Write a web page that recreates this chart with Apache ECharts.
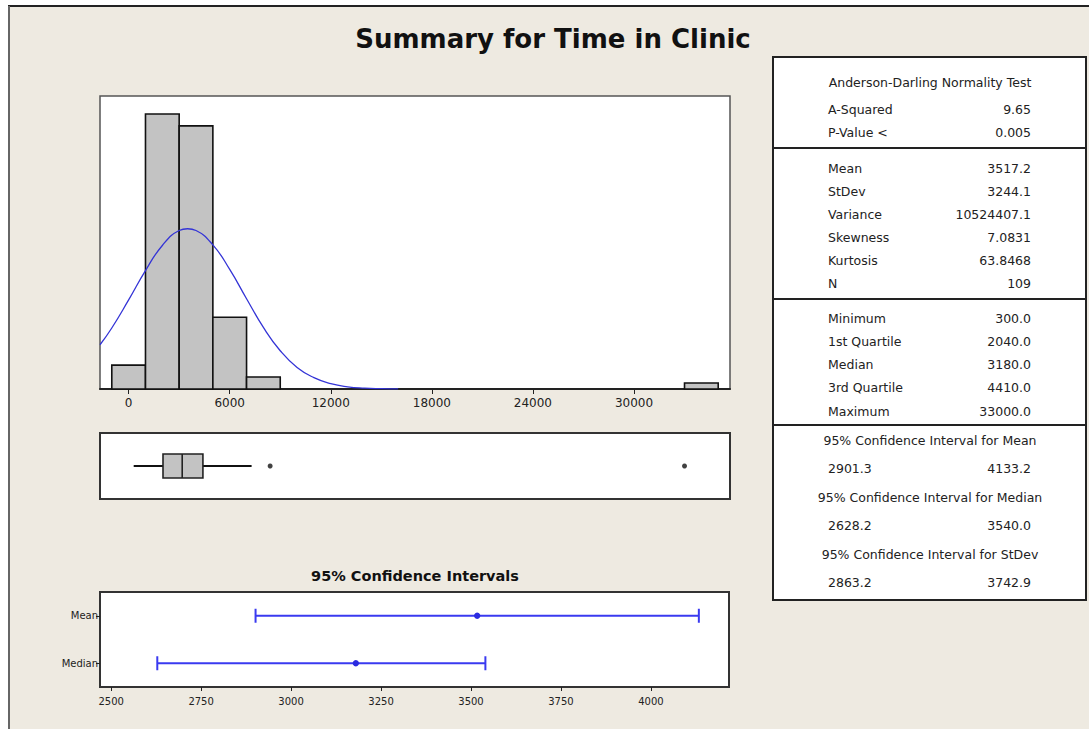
<!DOCTYPE html>
<html>
<head>
<meta charset="utf-8">
<title>Summary for Time in Clinic</title>
<script src="https://cdn.jsdelivr.net/npm/echarts@6/dist/echarts.min.js"></script>
<style>
  html, body { margin: 0; padding: 0; background: #fff; }
  #chart { width: 1089px; height: 729px; }
</style>
</head>
<body>
<div id="chart"></div>
<script>
// histogram bins (Time in Clinic) and counts
var binStart = [-1000, 1000, 3000, 5000, 7000, 33000]
var binEnd = [1000, 3000, 5000, 7000, 9000, 35000]
var binCount = [4, 46, 44, 12, 2, 1]

// fitted normal curve (count scale)
var curveX = [-1700, -1000, 0, 1000, 2000, 3000, 3500, 4000, 5000, 6000, 7000, 8000, 9000, 10000, 11000, 12000, 13000, 14000, 15000, 16000]
var curveY = [7.4, 10.2, 14.9, 19.8, 24.0, 26.5, 26.8, 26.5, 24.1, 20.0, 15.1, 10.3, 6.4, 3.6, 1.9, 0.9, 0.37, 0.14, 0.05, 0.01]
var histTicks = [0, 6000, 12000, 18000, 24000, 30000]

// box plot: whisker low, Q1, median, Q3, whisker high
var boxStats = [300, 2040, 3180, 4410, 7300]
var outliers = [8400, 33000]

// 95% confidence intervals
var ciNames = ['Median', 'Mean']
var ciLow = [2628.2, 2901.3]
var ciHigh = [3540.0, 4133.2]
var ciCenter = [3180.0, 3517.2]
var ciTicks = [2500, 2750, 3000, 3250, 3500, 3750, 4000]

// statistics panel
var adRows = [['A-Squared', '9.65'], ['P-Value <', '0.005']]
var momentRows = [['Mean', '3517.2'], ['StDev', '3244.1'], ['Variance', '10524407.1'], ['Skewness', '7.0831'], ['Kurtosis', '63.8468'], ['N', '109']]
var quantRows = [['Minimum', '300.0'], ['1st Quartile', '2040.0'], ['Median', '3180.0'], ['3rd Quartile', '4410.0'], ['Maximum', '33000.0']]
var ciTitles = ['95% Confidence Interval for Mean', '95% Confidence Interval for Median', '95% Confidence Interval for StDev']
var ciPairs = [['2901.3', '4133.2'], ['2628.2', '3540.0'], ['2863.2', '3742.9']]

var FONT = 'DejaVu Sans'
var BG = '#EEEAE1'

var histData = binStart.map(function (s, i) { return [s, binEnd[i], binCount[i]] })
var curveData = curveX.map(function (x, i) { return [x, curveY[i]] })
var ciData = ciNames.map(function (n, i) { return [ciLow[i], ciHigh[i], ciCenter[i], i] })

function plain(v) { return String(v) }

function tableGraphics() {
  var els = []
  var L = 828, R = 1031, MID = 930
  els.push({ type: 'rect', shape: { x: 773, y: 57, width: 313, height: 543 },
    style: { fill: '#fff', stroke: '#222', lineWidth: 2 } })
  ;[148, 299, 425].forEach(function (y) {
    els.push({ type: 'line', shape: { x1: 773, y1: y, x2: 1086, y2: y }, style: { stroke: '#222', lineWidth: 2 } })
  })
  function txt(x, y, s, align) {
    els.push({ type: 'text', x: x, y: y,
      style: { text: s, fill: '#222', font: '12.5px "' + FONT + '"', textAlign: align, textVerticalAlign: 'middle' } })
  }
  txt(MID, 82, 'Anderson-Darling Normality Test', 'center')
  adRows.forEach(function (r, i) { txt(L, 109 + i * 23.5, r[0], 'left'); txt(R, 109 + i * 23.5, r[1], 'right') })
  momentRows.forEach(function (r, i) { txt(L, 168 + i * 23, r[0], 'left'); txt(R, 168 + i * 23, r[1], 'right') })
  quantRows.forEach(function (r, i) { txt(L, 318 + i * 23.3, r[0], 'left'); txt(R, 318 + i * 23.3, r[1], 'right') })
  ciTitles.forEach(function (t, i) {
    var y = 440 + i * 57
    txt(MID, y, t, 'center')
    txt(L, y + 28, ciPairs[i][0], 'left')
    txt(R, y + 28, ciPairs[i][1], 'right')
  })
  return els
}

var chart = echarts.init(document.getElementById('chart'), null, { renderer: 'svg' })

chart.setOption({
  animation: false,
  backgroundColor: '#fff',
  graphic: [
    { type: 'rect', z: -10, shape: { x: 9, y: 6, width: 1080, height: 723 }, style: { fill: BG } },
    { type: 'line', shape: { x1: 8, y1: 6, x2: 1089, y2: 6 }, style: { stroke: '#222', lineWidth: 2 } },
    { type: 'line', shape: { x1: 9, y1: 6, x2: 9, y2: 729 }, style: { stroke: '#666', lineWidth: 2 } },
    { type: 'text', x: 553, y: 39,
      style: { text: 'Summary for Time in Clinic', fill: '#111', font: 'bold 26px "' + FONT + '"', textAlign: 'center', textVerticalAlign: 'middle' } },
    { type: 'text', x: 415, y: 576,
      style: { text: '95% Confidence Intervals', fill: '#111', font: 'bold 14.5px "' + FONT + '"', textAlign: 'center', textVerticalAlign: 'middle' } }
  ].concat(tableGraphics()),
  grid: [
    { left: 100, top: 96, width: 630, height: 293, show: true, backgroundColor: '#fff', borderColor: '#555', borderWidth: 1.5 },
    { left: 100, top: 433, width: 630, height: 66, show: true, backgroundColor: '#fff', borderColor: '#333', borderWidth: 2 },
    { left: 100, top: 592, width: 629, height: 95, show: true, backgroundColor: '#fff', borderColor: '#333', borderWidth: 2 }
  ],
  xAxis: [
    {
      type: 'value', gridIndex: 0, min: -1700, max: 35700,
      splitLine: { show: false },
      axisLine: { lineStyle: { color: '#222', width: 2 } },
      axisTick: { show: true, length: 5, customValues: histTicks, lineStyle: { color: '#222' } },
      axisLabel: { customValues: histTicks, formatter: plain, color: '#222', fontFamily: FONT, fontSize: 12, margin: 8 }
    },
    {
      type: 'value', gridIndex: 1, min: -1700, max: 35700,
      splitLine: { show: false }, axisLine: { show: false }, axisTick: { show: false }, axisLabel: { show: false }
    },
    {
      type: 'value', gridIndex: 2, min: 2469, max: 4217,
      splitLine: { show: false },
      axisLine: { lineStyle: { color: '#333', width: 2 } },
      axisTick: { show: true, length: 4, customValues: ciTicks, lineStyle: { color: '#222' } },
      axisLabel: { customValues: ciTicks, formatter: plain, color: '#222', fontFamily: FONT, fontSize: 10, margin: 9 }
    }
  ],
  yAxis: [
    { type: 'value', gridIndex: 0, min: 0, max: 49, show: false },
    { type: 'category', gridIndex: 1, data: ['Time in Clinic'], show: false },
    {
      type: 'category', gridIndex: 2, data: ciNames,
      axisLine: { lineStyle: { color: '#333', width: 2 } },
      axisTick: { show: true, alignWithLabel: true, length: 4, lineStyle: { color: '#222' } },
      axisLabel: { color: '#222', fontFamily: FONT, fontSize: 10, margin: 2 }
    }
  ],
  series: [
    {
      type: 'custom', xAxisIndex: 0, yAxisIndex: 0, data: histData,
      encode: { x: [0, 1], y: 2 },
      renderItem: function (params, api) {
        var p0 = api.coord([api.value(0), api.value(2)])
        var p1 = api.coord([api.value(1), 0])
        return { type: 'rect', shape: { x: p0[0], y: p0[1], width: p1[0] - p0[0], height: p1[1] - p0[1] },
          style: { fill: '#C3C3C3', stroke: '#111', lineWidth: 1.6 } }
      }
    },
    {
      type: 'line', xAxisIndex: 0, yAxisIndex: 0, data: curveData, smooth: true,
      showSymbol: false, z: 5, lineStyle: { color: '#3434D6', width: 1.3 }
    },
    {
      type: 'custom', xAxisIndex: 1, yAxisIndex: 1, data: [boxStats.concat([0])],
      encode: { x: [0, 1, 2, 3, 4], y: 5 },
      renderItem: function (params, api) {
        var c = function (i) { return api.coord([api.value(i), 0]) }
        var lo = c(0), q1 = c(1), md = c(2), q3 = c(3), hi = c(4)
        var y = lo[1], h = 24
        var ln = { stroke: '#111', lineWidth: 2 }
        return { type: 'group', children: [
          { type: 'line', shape: { x1: lo[0], y1: y, x2: q1[0], y2: y }, style: ln },
          { type: 'line', shape: { x1: q3[0], y1: y, x2: hi[0], y2: y }, style: ln },
          { type: 'rect', shape: { x: q1[0], y: y - h / 2, width: q3[0] - q1[0], height: h },
            style: { fill: '#C3C3C3', stroke: '#222', lineWidth: 1.6 } },
          { type: 'line', shape: { x1: md[0], y1: y - h / 2, x2: md[0], y2: y + h / 2 }, style: { stroke: '#222', lineWidth: 1.6 } }
        ] }
      }
    },
    {
      type: 'scatter', xAxisIndex: 1, yAxisIndex: 1,
      data: outliers.map(function (v) { return [v, 0] }),
      symbolSize: 5, itemStyle: { color: '#111' }
    },
    {
      type: 'custom', xAxisIndex: 2, yAxisIndex: 2, data: ciData,
      encode: { x: [0, 1, 2], y: 3 },
      renderItem: function (params, api) {
        var a = api.coord([api.value(0), api.value(3)])
        var b = api.coord([api.value(1), api.value(3)])
        var m = api.coord([api.value(2), api.value(3)])
        var st = { stroke: '#3A3AF0', lineWidth: 2 }
        return { type: 'group', children: [
          { type: 'line', shape: { x1: a[0], y1: a[1], x2: b[0], y2: b[1] }, style: st },
          { type: 'line', shape: { x1: a[0], y1: a[1] - 7, x2: a[0], y2: a[1] + 7 }, style: st },
          { type: 'line', shape: { x1: b[0], y1: b[1] - 7, x2: b[0], y2: b[1] + 7 }, style: st },
          { type: 'circle', shape: { cx: m[0], cy: m[1], r: 3.2 }, style: { fill: '#2B2BE0' } }
        ] }
      }
    }
  ]
})
</script>
</body>
</html>
